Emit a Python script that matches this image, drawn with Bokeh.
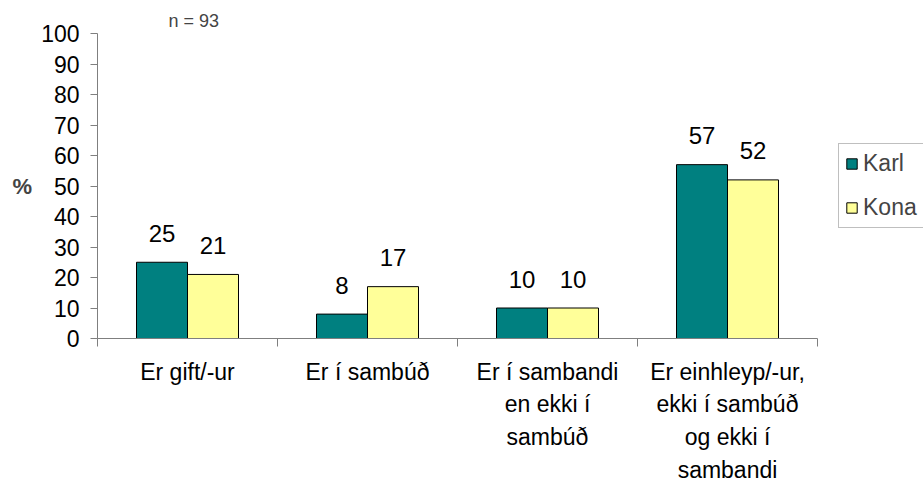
from bokeh.plotting import figure
from bokeh.models import ColumnDataSource, Range1d, FixedTicker, Legend, LegendItem
from bokeh.core.properties import value
from bokeh.embed import file_html
from bokeh.resources import INLINE

categories = ["Er gift/-ur", "Er í sambúð", "Er í sambandi\nen ekki í\nsambúð",
              "Er einhleyp/-ur,\nekki í sambúð\nog ekki í\nsambandi"]
karl = [25, 8, 10, 57]
kona = [21, 17, 10, 52]
y_ticks = list(range(0, 101, 10))
note = "n = 93"

FONT = "Liberation Sans"
bw = 51 / 180.0
n = len(categories)

idx = list(range(n))
centers = [i + 0.5 for i in idx]
src_k = ColumnDataSource(dict(x=[c - bw / 2 for c in centers], top=karl, lab=[str(v) for v in karl]))
src_f = ColumnDataSource(dict(x=[c + bw / 2 for c in centers], top=kona, lab=[str(v) for v in kona]))

p = figure(width=923, height=488, output_backend="svg", toolbar_location=None,
           x_range=Range1d(0, n + 106 / 180.0), y_range=Range1d(0, 100),
           min_border_left=97, min_border_right=0, min_border_top=33, min_border_bottom=150)
p.outline_line_color = None
p.xgrid.visible = False
p.ygrid.visible = False

rk = p.vbar(x="x", top="top", width=bw, source=src_k, fill_color="#008080", line_color="black", line_width=1)
rf = p.vbar(x="x", top="top", width=bw, source=src_f, fill_color="#FFFF99", line_color="black", line_width=1)

for s in (src_k, src_f):
    p.text(x="x", y="top", text="lab", source=s, text_align="center", text_baseline="middle",
           y_offset=-29, text_font=value(FONT), text_font_size="24px", text_color="black")

p.title.text = note
p.title.align = "left"
p.title.offset = 71
p.title.text_font = FONT
p.title.text_font_size = "18px"
p.title.text_font_style = "normal"
p.title.standoff = 5

xa = p.xaxis[0]
xa.bounds = (0, n)
xa.ticker = FixedTicker(ticks=centers, minor_ticks=list(range(n + 1)))
xa.major_label_overrides = {c: lab for c, lab in zip(centers, categories)}
xa.major_label_text_font = FONT
xa.major_label_text_font_size = "23px"
xa.major_label_text_color = "black"
xa.major_label_text_line_height = 1.26
xa.major_label_standoff = 12
xa.axis_line_color = "#7f7f7f"
xa.major_tick_line_color = None
xa.major_tick_out = 8
xa.minor_tick_line_color = "#7f7f7f"
xa.minor_tick_out = 8
xa.minor_tick_in = 0

ya = p.yaxis[0]
ya.ticker = FixedTicker(ticks=y_ticks)
ya.axis_line_color = "#7f7f7f"
ya.major_tick_line_color = "#7f7f7f"
ya.major_tick_out = 7
ya.major_tick_in = 0
ya.minor_tick_line_color = None
ya.major_label_text_font = FONT
ya.major_label_text_font_size = "23px"
ya.major_label_text_color = "black"
ya.major_label_standoff = 11
ya.axis_label = "%"
ya.axis_label_orientation = "horizontal"
ya.axis_label_text_font = FONT
ya.axis_label_text_font_size = "22px"
ya.axis_label_text_font_style = "bold"
ya.axis_label_standoff = 6

legend = Legend(items=[LegendItem(label="Karl", renderers=[rk]), LegendItem(label="Kona", renderers=[rf])],
                location=(741, 110), orientation="vertical")
legend.label_text_font = FONT
legend.label_text_font_size = "23px"
legend.glyph_width = 13
legend.glyph_height = 13
legend.label_standoff = 5
legend.label_height = 26
legend.spacing = 17
legend.padding = 6
legend.margin = 0
legend.border_line_color = "#7f7f7f"
legend.border_line_width = 1
legend.background_fill_color = "white"
p.add_layout(legend, "center")

open("out.html", "w").write(file_html(p, INLINE))
